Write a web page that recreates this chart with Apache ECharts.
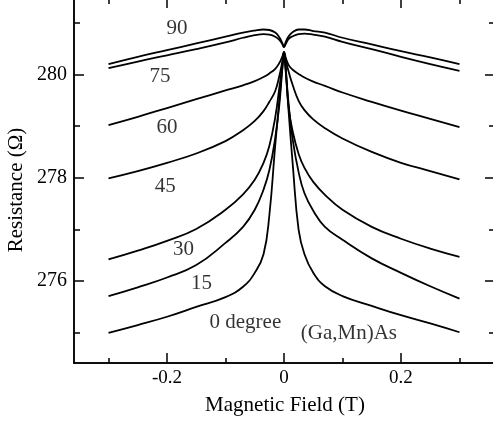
<!DOCTYPE html>
<html>
<head>
<meta charset="utf-8">
<script src="https://cdn.jsdelivr.net/npm/echarts@6/dist/echarts.min.js"></script>
<style>
html,body{margin:0;padding:0;background:#fff;}
#c{width:493px;height:423px;}
</style>
</head>
<body>
<div id="c"></div>
<script>
// Magnetic field (T)
const fields = [-0.3, -0.25, -0.2, -0.15, -0.1, -0.07, -0.05, -0.035, -0.025, -0.015, -0.008, -0.003, 0,
                0.003, 0.008, 0.015, 0.025, 0.035, 0.05, 0.07, 0.1, 0.15, 0.2, 0.25, 0.3];
// Resistance (Ohm) per angle
const r90 = [280.20, 280.34, 280.47, 280.60, 280.73, 280.81, 280.85, 280.87, 280.86, 280.81, 280.72, 280.61, 280.53,
             280.63, 280.74, 280.82, 280.87, 280.87, 280.84, 280.81, 280.71, 280.58, 280.45, 280.33, 280.20];
const r75 = [280.12, 280.25, 280.37, 280.49, 280.62, 280.71, 280.76, 280.78, 280.77, 280.73, 280.67, 280.59, 280.53,
             280.59, 280.69, 280.74, 280.78, 280.79, 280.77, 280.73, 280.63, 280.49, 280.34, 280.20, 280.07];
const r60 = [279.02, 279.18, 279.35, 279.52, 279.69, 279.79, 279.87, 279.95, 280.02, 280.11, 280.22, 280.34, 280.43,
             280.32, 280.18, 280.09, 280.01, 279.94, 279.86, 279.78, 279.65, 279.47, 279.30, 279.14, 278.98];
const r45 = [277.99, 278.13, 278.29, 278.47, 278.71, 278.92, 279.10, 279.29, 279.47, 279.68, 279.97, 280.24, 280.43,
             280.28, 280.05, 279.79, 279.49, 279.31, 279.13, 278.96, 278.76, 278.50, 278.29, 278.13, 277.97];
const r30 = [276.42, 276.59, 276.78, 277.01, 277.38, 277.68, 277.96, 278.29, 278.62, 279.17, 279.74, 280.16, 280.43,
             280.12, 279.35, 278.89, 278.46, 278.19, 277.92, 277.67, 277.38, 277.05, 276.82, 276.63, 276.47];
const r15 = [275.71, 275.88, 276.07, 276.31, 276.74, 277.05, 277.38, 277.77, 278.15, 278.77, 279.41, 280.09, 280.43,
             280.09, 279.41, 278.73, 278.11, 277.70, 277.36, 277.05, 276.80, 276.44, 276.16, 275.90, 275.66];
const r0 = [275.00, 275.15, 275.31, 275.50, 275.69, 275.89, 276.16, 276.52, 277.28, 278.63, 279.50, 280.12, 280.43,
            280.05, 279.27, 278.25, 276.99, 276.52, 276.16, 275.90, 275.71, 275.52, 275.34, 275.18, 275.01];

// Tick values
const xMajorTicks = [-0.2, 0, 0.2];
const xMinorTicks = [-0.3, -0.1, 0.1, 0.3];
const yMajorTicks = [276, 278, 280];
const yMinorTicks = [275, 277, 279, 281];

// Annotation texts and their anchor (data coords)
const curveLabelTexts = ['90', '75', '60', '45', '30', '15', '0 degree', '(Ga,Mn)As'];
const curveLabelX = [-0.183, -0.212, -0.200, -0.203, -0.172, -0.141, -0.066, 0.111];
const curveLabelY = [280.88, 279.97, 278.97, 277.84, 276.62, 275.96, 275.19, 274.98];

const FONT = '"Liberation Serif", "DejaVu Serif", serif';
const xMin = -0.359, xMax = 0.359, yMin = 274.415, yMax = 281.46;

const allSeries = [r90, r75, r60, r45, r30, r15, r0];

function axisCommon(extra) {
  return Object.assign({
    type: 'value',
    splitLine: {show: false},
    axisLine: {show: true, onZero: false, lineStyle: {color: '#000', width: 1.5}},
  }, extra);
}
function xAx(pos, ticks, len, labels) {
  return axisCommon({
    position: pos, min: xMin, max: xMax,
    axisTick: {show: true, inside: true, length: len, customValues: ticks, lineStyle: {color: '#000', width: 1.5}},
    axisLabel: labels ? {show: true, customValues: ticks, color: '#000', fontFamily: FONT, fontSize: 19, margin: 6,
                         formatter: v => String(Math.round(v * 10) / 10)} : {show: false}
  });
}
function yAx(pos, ticks, len, labels) {
  return axisCommon({
    position: pos, min: yMin, max: yMax,
    axisTick: {show: true, inside: true, length: len, customValues: ticks, lineStyle: {color: '#000', width: 1.5}},
    axisLabel: labels ? {show: true, customValues: ticks, color: '#000', fontFamily: FONT, fontSize: 20, margin: 7,
                         formatter: v => String(Math.round(v))} : {show: false}
  });
}

const chart = echarts.init(document.getElementById('c'), null, {renderer: 'canvas'});

const series = allSeries.map(arr => ({
  type: 'line',
  xAxisIndex: 0, yAxisIndex: 0,
  data: fields.map((f, i) => [f, arr[i]]),
  showSymbol: false,
  smooth: 0.45,
  lineStyle: {color: '#000', width: 1.8},
  silent: true,
  animation: false
}));

series.push({
  type: 'scatter',
  xAxisIndex: 0, yAxisIndex: 0,
  symbolSize: 0,
  silent: true,
  animation: false,
  data: curveLabelTexts.map((t, i) => ({value: [curveLabelX[i], curveLabelY[i]], name: t})),
  label: {
    show: true, position: 'inside', formatter: p => p.name,
    color: '#000', fontFamily: FONT,
    fontSize: 21
  }
});

chart.setOption({
  animation: false,
  backgroundColor: '#fff',
  grid: {left: 74, right: -1, top: -1, bottom: 60, containLabel: false, outerBoundsMode: 'none'},
  xAxis: [
    xAx('bottom', xMajorTicks, 10, true),
    xAx('bottom', xMinorTicks, 5, false),
    xAx('top', xMajorTicks, 9, false),
    xAx('top', xMinorTicks, 5, false)
  ],
  yAxis: [
    yAx('left', yMajorTicks, 10, true),
    yAx('left', yMinorTicks, 6, false),
    yAx('right', yMajorTicks, 9, false),
    yAx('right', yMinorTicks, 5, false)
  ],
  series: series,
  graphic: [
    {type: 'text', x: 285, y: 405, style: {text: 'Magnetic Field (T)', font: '21px ' + FONT, fill: '#000', textAlign: 'center', textVerticalAlign: 'middle'}},
    {type: 'text', x: 16, y: 190, rotation: Math.PI / 2, style: {text: 'Resistance (Ω)', font: '21px ' + FONT, fill: '#000', textAlign: 'center', textVerticalAlign: 'middle'}}
  ]
});
</script>
</body>
</html>
